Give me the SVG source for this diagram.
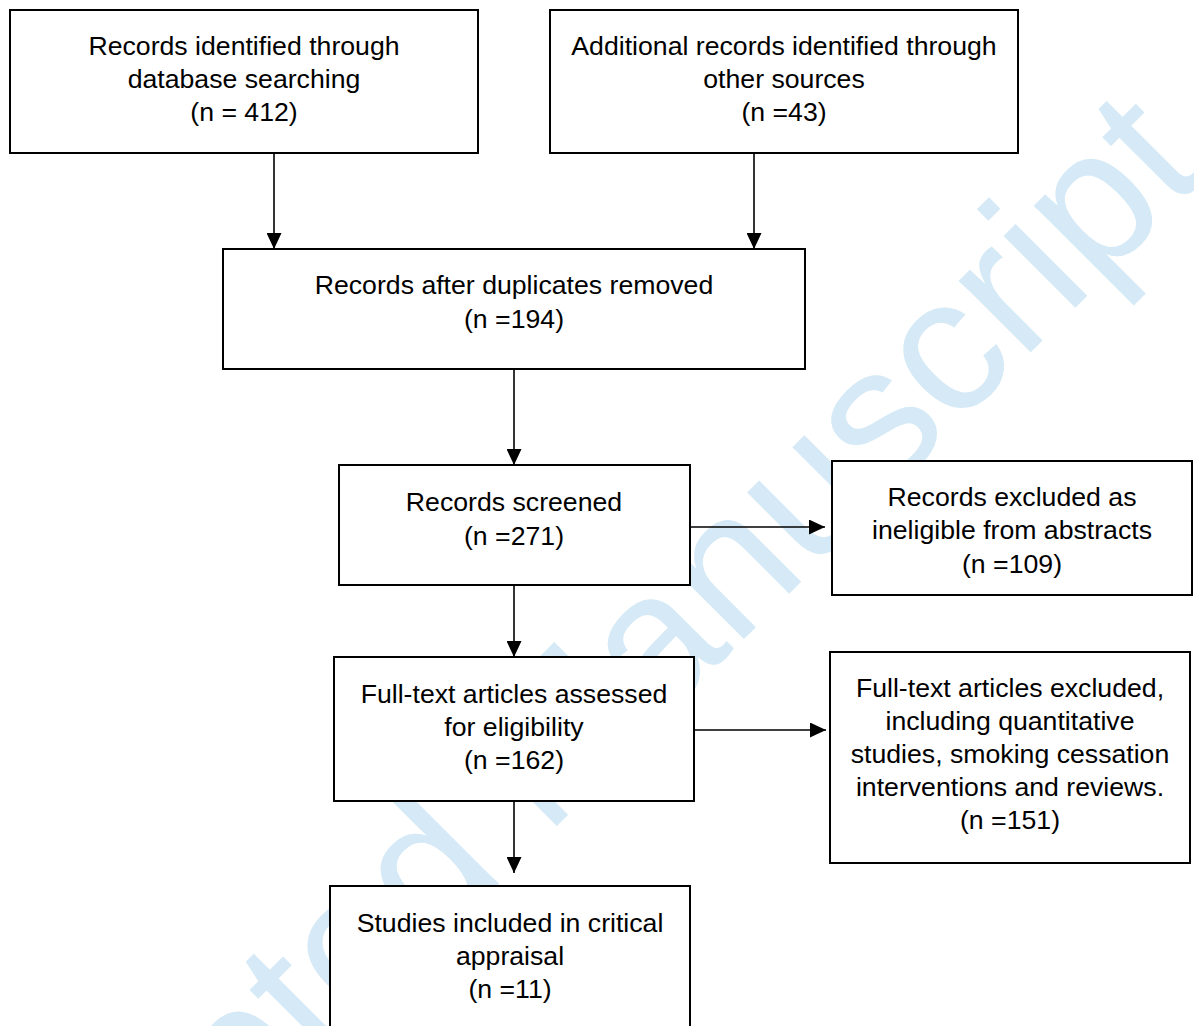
<svg xmlns="http://www.w3.org/2000/svg" width="1194" height="1026" viewBox="0 0 1194 1026">
<style>
  .box { fill: #ffffff; stroke: #000000; stroke-width: 2; }
  .lbl { font-family: "Liberation Sans", Arial, sans-serif; font-size: 26.67px; fill: #000000; text-anchor: middle; }
  .conn { stroke: #000000; stroke-width: 1.6; fill: none; marker-end: url(#arrow); }
  .wm { font-family: "Liberation Sans", Arial, sans-serif; font-size: 192px; fill: #d5eaf6; }
</style>
<defs>
  <marker id="arrow" markerUnits="userSpaceOnUse" markerWidth="16" markerHeight="15" refX="16" refY="7.5" orient="auto">
    <path d="M0,0 L16,7.5 L0,15 Z" fill="#000000"/>
  </marker>
</defs>
<rect x="0" y="0" width="1194" height="1026" fill="#ffffff"/>
<g id="watermark">
  <text class="wm" transform="translate(-58,1441) rotate(-45)" x="0" y="0">Accepted Manuscript</text>
</g>
<g id="connectors">
  <path class="conn" d="M274,153 V249"/>
  <path class="conn" d="M754,153 V249"/>
  <path class="conn" d="M514,369 V465"/>
  <path class="conn" d="M688,527 H825"/>
  <path class="conn" d="M514,585 V657"/>
  <path class="conn" d="M694,730 H826"/>
  <path class="conn" d="M514,801 V873"/>
</g>
<g id="n1">
  <rect class="box" x="10" y="10" width="468" height="143"/>
  <text class="lbl" x="244" y="55">Records identified through</text>
  <text class="lbl" x="244" y="88">database searching</text>
  <text class="lbl" x="244" y="121">(n = 412)</text>
</g>
<g id="n2">
  <rect class="box" x="550" y="10" width="468" height="143"/>
  <text class="lbl" x="784" y="55">Additional records identified through</text>
  <text class="lbl" x="784" y="88">other sources</text>
  <text class="lbl" x="784" y="121">(n =43)</text>
</g>
<g id="n3">
  <rect class="box" x="223" y="249" width="582" height="120"/>
  <text class="lbl" x="514" y="294">Records after duplicates removed</text>
  <text class="lbl" x="514" y="328">(n =194)</text>
</g>
<g id="n4">
  <rect class="box" x="339" y="465" width="351" height="120"/>
  <text class="lbl" x="514" y="511">Records screened</text>
  <text class="lbl" x="514" y="545">(n =271)</text>
</g>
<g id="n5">
  <rect class="box" x="832" y="461" width="360" height="134"/>
  <text class="lbl" x="1012" y="506">Records excluded as</text>
  <text class="lbl" x="1012" y="539">ineligible from abstracts</text>
  <text class="lbl" x="1012" y="573">(n =109)</text>
</g>
<g id="n6">
  <rect class="box" x="334" y="657" width="360" height="144"/>
  <text class="lbl" x="514" y="703">Full-text articles assessed</text>
  <text class="lbl" x="514" y="736">for eligibility</text>
  <text class="lbl" x="514" y="769">(n =162)</text>
</g>
<g id="n7">
  <rect class="box" x="830" y="652" width="360" height="211"/>
  <text class="lbl" x="1010" y="697">Full-text articles excluded,</text>
  <text class="lbl" x="1010" y="730">including quantitative</text>
  <text class="lbl" x="1010" y="763">studies, smoking cessation</text>
  <text class="lbl" x="1010" y="796">interventions and reviews.</text>
  <text class="lbl" x="1010" y="829">(n =151)</text>
</g>
<g id="n8">
  <rect class="box" x="330" y="886" width="360" height="160"/>
  <text class="lbl" x="510" y="932">Studies included in critical</text>
  <text class="lbl" x="510" y="965">appraisal</text>
  <text class="lbl" x="510" y="998">(n =11)</text>
</g>
</svg>
